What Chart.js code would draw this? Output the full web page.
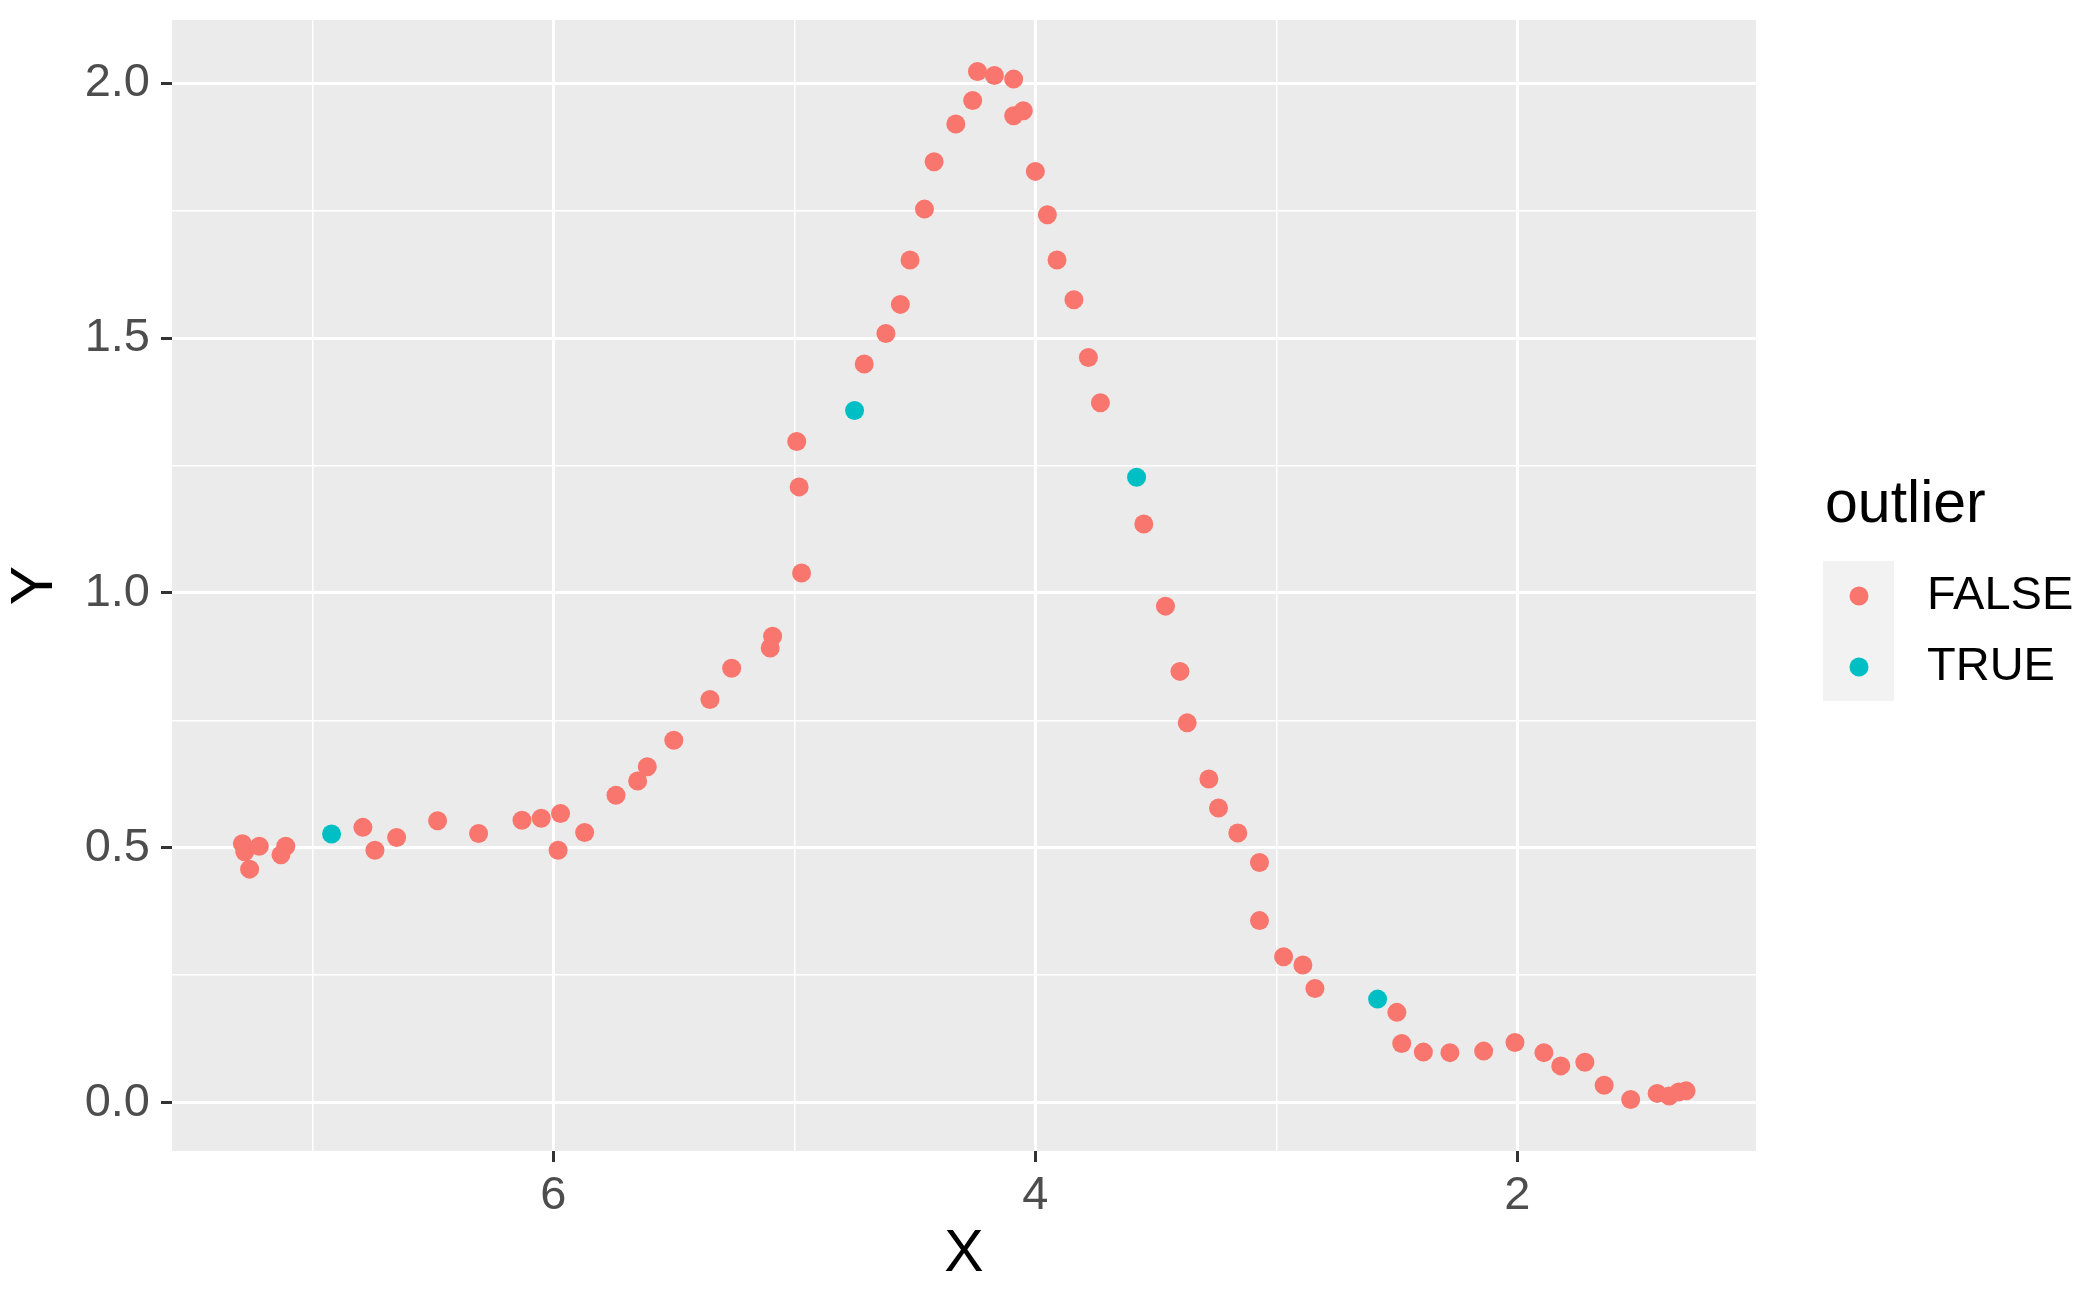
<!DOCTYPE html>
<html lang="en">
<head>
  <meta charset="UTF-8" />
  <title>outlier scatter</title>
  <script src="https://cdn.jsdelivr.net/npm/chart.js"></script>
  <style>
    body {
      margin: 0;
      background: white;
    }
    #wrap {
      width: 2081px;
      height: 1292px;
    }
  </style>
</head>
<body>
  <div id="wrap">
    <canvas id="scatter" width="2081" height="1292"></canvas>
  </div>

  <script>
    // points where outlier == FALSE
    const falseX = [7.29, 7.28, 7.22, 7.26, 7.13, 7.11, 6.79, 6.74, 6.65, 6.48, 6.31, 6.13, 6.05, 5.97, 5.98, 5.87,
      5.74, 5.65, 5.61, 5.50, 5.35, 5.26, 5.10, 5.09, 4.97, 4.98, 4.99, 4.71, 4.62, 4.56, 4.52, 4.46, 4.42,
      4.33, 4.26, 4.24, 4.17, 4.09, 4.09, 4.05, 4.00, 3.95, 3.91, 3.84, 3.78, 3.73, 3.55, 3.46, 3.40, 3.37,
      3.28, 3.24, 3.16, 3.07, 3.07, 2.97, 2.89, 2.84, 2.50, 2.48, 2.39, 2.28, 2.14, 2.01, 1.89, 1.82, 1.72,
      1.64, 1.53, 1.42, 1.37, 1.33, 1.30];
    const falseY = [0.508, 0.492, 0.503, 0.458, 0.486, 0.503, 0.540, 0.495, 0.520, 0.553, 0.528, 0.554, 0.558, 0.567, 0.495, 0.530,
      0.603, 0.631, 0.659, 0.711, 0.791, 0.852, 0.892, 0.915, 1.039, 1.208, 1.297, 1.449, 1.509, 1.566, 1.653, 1.753, 1.846,
      1.920, 1.966, 2.023, 2.015, 2.008, 1.936, 1.946, 1.827, 1.742, 1.653, 1.575, 1.462, 1.373, 1.135, 0.974, 0.846, 0.745,
      0.635, 0.578, 0.529, 0.471, 0.357, 0.286, 0.270, 0.224, 0.177, 0.116, 0.099, 0.098, 0.101, 0.118, 0.098, 0.072, 0.079,
      0.034, 0.006, 0.018, 0.013, 0.021, 0.023];

    // points where outlier == TRUE
    const trueX = [6.92, 4.75, 3.58, 2.58];
    const trueY = [0.527, 1.358, 1.227, 0.203];

    const xTicks = [2, 3, 4, 5, 6, 7];
    const yTicks = [0, 0.25, 0.5, 0.75, 1, 1.25, 1.5, 1.75, 2];
    const legendLabels = ['FALSE', 'TRUE'];
    const colors = ['#F8766D', '#00BFC4'];

    const FONT = '"Liberation Sans", Arial, sans-serif';

    function toPoints(xs, ys) {
      return xs.map((x, i) => ({ x: x, y: ys[i] }));
    }

    // panel background + ggplot-style legend
    const panelPlugin = {
      id: 'panel',
      beforeDraw(chart) {
        const { ctx, chartArea } = chart;
        ctx.save();
        ctx.fillStyle = 'white';
        ctx.fillRect(0, 0, chart.width, chart.height);
        ctx.fillStyle = '#EBEBEB';
        ctx.fillRect(chartArea.left, chartArea.top, chartArea.right - chartArea.left, chartArea.bottom - chartArea.top);
        ctx.restore();
      },
      afterDraw(chart) {
        const ctx = chart.ctx;
        ctx.save();
        ctx.fillStyle = 'black';
        ctx.font = '59px ' + FONT;
        ctx.textBaseline = 'alphabetic';
        ctx.textAlign = 'left';
        ctx.fillText('outlier', 1825, 522);

        ctx.fillStyle = '#F2F2F2';
        ctx.fillRect(1823, 561, 71, 140);

        ctx.font = '47px ' + FONT;
        ctx.textBaseline = 'middle';
        legendLabels.forEach((lab, i) => {
          const cy = 596 + i * 71;
          ctx.fillStyle = colors[i];
          ctx.beginPath();
          ctx.arc(1859, cy, 9.5, 0, Math.PI * 2);
          ctx.fill();
          ctx.fillStyle = 'black';
          ctx.fillText(lab, 1927, cy);
        });
        ctx.restore();
      }
    };

    const isMajorX = v => v % 2 === 0;
    const isMajorY = v => Math.abs(v * 2 - Math.round(v * 2)) < 1e-9;

    new Chart(document.getElementById('scatter'), {
      type: 'scatter',
      data: {
        datasets: [
          {
            label: 'FALSE',
            data: toPoints(falseX, falseY),
            backgroundColor: colors[0],
            borderWidth: 0,
            pointRadius: 9.5
          },
          {
            label: 'TRUE',
            data: toPoints(trueX, trueY),
            backgroundColor: colors[1],
            borderWidth: 0,
            pointRadius: 9.5
          }
        ]
      },
      options: {
        responsive: false,
        animation: false,
        devicePixelRatio: 1,
        layout: { padding: { left: 0, top: 20, right: 325, bottom: 0 } },
        plugins: {
          legend: { display: false },
          tooltip: { enabled: false }
        },
        scales: {
          x: {
            type: 'linear',
            reverse: true,
            min: 1.010,
            max: 7.582,
            afterBuildTicks: s => { s.ticks = xTicks.map(v => ({ value: v })); },
            afterFit: s => {
              s.height = 141;
              s.paddingLeft = 0;
              s.paddingRight = 0;
            },
            border: { display: false },
            grid: {
              color: 'white',
              lineWidth: c => isMajorX(c.tick.value) ? 3 : 1.5,
              tickLength: 11,
              tickWidth: 3,
              tickColor: c => isMajorX(c.tick.value) ? '#333333' : 'rgba(0,0,0,0)'
            },
            ticks: {
              autoSkip: false,
              maxRotation: 0,
              padding: 6,
              color: '#4D4D4D',
              font: { family: FONT, size: 47 },
              callback: v => isMajorX(v) ? String(v) : ''
            },
            title: {
              display: true,
              text: 'X',
              color: 'black',
              font: { family: FONT, size: 59 },
              padding: { top: 0, bottom: 2 }
            }
          },
          y: {
            type: 'linear',
            min: -0.095,
            max: 2.124,
            afterBuildTicks: s => { s.ticks = yTicks.map(v => ({ value: v })); },
            afterFit: s => {
              s.width = 172;
              s.paddingTop = 0;
              s.paddingBottom = 0;
            },
            border: { display: false },
            grid: {
              color: 'white',
              lineWidth: c => isMajorY(c.tick.value) ? 3 : 1.5,
              tickLength: 11,
              tickWidth: 3,
              tickColor: c => isMajorY(c.tick.value) ? '#333333' : 'rgba(0,0,0,0)'
            },
            ticks: {
              autoSkip: false,
              padding: 11,
              color: '#4D4D4D',
              font: { family: FONT, size: 47 },
              callback: v => isMajorY(v) ? v.toFixed(1) : ''
            },
            title: {
              display: true,
              text: 'Y',
              color: 'black',
              font: { family: FONT, size: 59 },
              padding: { top: 0, bottom: 0 }
            }
          }
        }
      },
      plugins: [panelPlugin]
    });
  </script>
</body>
</html>
